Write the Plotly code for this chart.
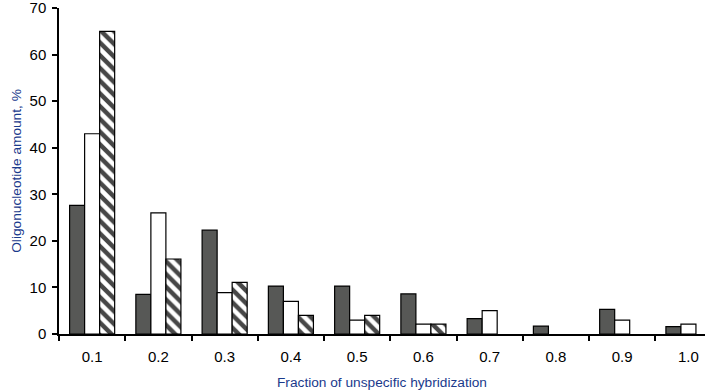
import plotly.graph_objects as go

categories = ["0.1", "0.2", "0.3", "0.4", "0.5", "0.6", "0.7", "0.8", "0.9", "1.0"]
series_dark = [27.6, 8.5, 22.3, 10.3, 10.3, 8.6, 3.3, 1.7, 5.3, 1.6]
series_white = [43.0, 26.0, 8.9, 7.0, 3.0, 2.1, 5.0, None, 3.0, 2.1]
series_hatched = [65.0, 16.1, 11.1, 4.0, 4.0, 2.1, None, None, None, None]
y_ticks = [0, 10, 20, 30, 40, 50, 60, 70]

fig = go.Figure()
fig.add_bar(x=categories, y=series_dark, marker=dict(color="#575856", line=dict(color="black", width=1.2)), showlegend=False)
fig.add_bar(x=categories, y=series_white, marker=dict(color="white", line=dict(color="black", width=1.2)), showlegend=False)
fig.add_bar(x=categories, y=series_hatched,
            marker=dict(color="#474747", line=dict(color="black", width=1.2),
                        pattern=dict(shape="\\", fgcolor="white", bgcolor="#474747", size=9, solidity=0.5, fillmode="replace")),
            showlegend=False)

font = "Liberation Sans, Arial, sans-serif"
fig.update_layout(
    width=706, height=392,
    margin=dict(l=59, r=1, t=8, b=58),
    paper_bgcolor="white", plot_bgcolor="white",
    barmode="group", bargap=0.32, bargroupgap=0,
    font=dict(family=font, size=15, color="black"),
)
fig.update_xaxes(
    type="category", range=[-0.5, 9.25], automargin=False,
    showline=True, linecolor="black", linewidth=1.5,
    ticks="outside", tickson="boundaries", ticklen=5, tickcolor="black", tickwidth=1.5,
    tickfont=dict(size=15, color="black"), ticklabelstandoff=8,
    title=dict(text="Fraction of unspecific hybridization", font=dict(size=13.7, color="#1a3a8c"), standoff=14),
    showgrid=False,
)
fig.update_yaxes(
    range=[0, 70], tickvals=y_ticks, automargin=False,
    showline=True, linecolor="black", linewidth=1.5,
    ticks="outside", ticklen=5, tickcolor="black", tickwidth=1.5,
    tickfont=dict(size=15, color="black"), ticklabelstandoff=3,
    ticklabeloverflow="allow",
    title=dict(text="Oligonucleotide amount, %", font=dict(size=13.7, color="#1a3a8c"), standoff=5),
    showgrid=False, zeroline=False,
)
fig.write_html("out.html", config={"displayModeBar": False},
               post_script="document.body.style.margin='0';document.body.style.overflow='hidden';")
